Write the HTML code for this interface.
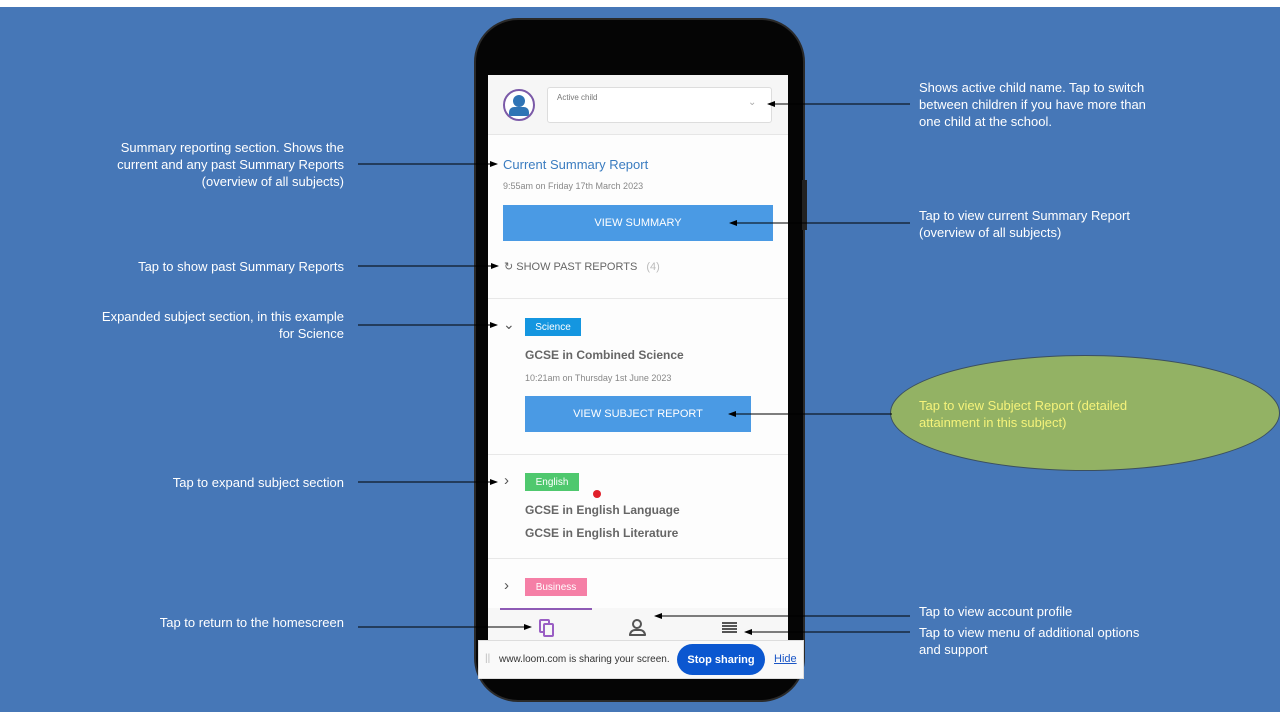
<!DOCTYPE html>
<html><head><meta charset="utf-8"><style>
*{margin:0;padding:0;box-sizing:border-box}
body{width:1280px;height:720px;position:relative;overflow:hidden;background:#fff;font-family:"Liberation Sans",sans-serif}
#bg{position:absolute;left:0;top:7px;width:1280px;height:705px;background:#4677b7}
.a{position:absolute;color:#fff;font-size:13px;line-height:17px}
.r{text-align:right}
.p{position:absolute}
.t{position:absolute;white-space:nowrap}
.b{position:absolute;color:#fff;font-size:10px;display:flex;align-items:center;justify-content:center}
</style></head><body>
<div id="bg"></div>
<div class="p" style="left:474px;top:18px;width:331px;height:684px;background:#050505;border-radius:44px;border:2px solid #2a2a2a"></div>
<div class="p" style="left:802px;top:180px;width:5px;height:50px;background:#222"></div>
<div class="p" style="left:488px;top:75px;width:300px;height:565px;background:#fdfdfd"></div>
<div class="p" style="left:488px;top:75px;width:300px;height:60px;background:#f6f6f6;border-bottom:1px solid #e6e6e6"></div>
<div class="p" style="left:503px;top:89px;width:32px;height:32px;border-radius:50%;border:2px solid #7b5aa8;background:#fff"></div>
<div class="p" style="left:513px;top:95px;width:12px;height:12px;border-radius:50%;background:#2f74b5"></div>
<div class="p" style="left:509px;top:107px;width:20px;height:9px;border-radius:5px 5px 2px 2px;background:#2f74b5"></div>
<div class="p" style="left:547px;top:87px;width:225px;height:36px;background:#fff;border:1px solid #ddd;border-radius:3px"></div>
<div class="t" style="left:557px;top:93px;font-size:8px;color:#777">Active child</div>
<div class="t" style="left:748px;top:97px;font-size:10px;color:#aaa">&#8964;</div>
<div class="t" style="left:503px;top:157px;font-size:13px;color:#3a7cc0">Current Summary Report</div>
<div class="t" style="left:503px;top:181px;font-size:9px;color:#888">9:55am on Friday 17th March 2023</div>
<div class="b" style="left:503px;top:205px;width:270px;height:36px;background:#4a9ae4;font-size:11px">VIEW SUMMARY</div>
<div class="t" style="left:504px;top:260px;font-size:11px;color:#666">&#8635; SHOW PAST REPORTS <span style="color:#bbb;margin-left:6px">(4)</span></div>
<div class="p" style="left:488px;top:298px;width:300px;height:1px;background:#e8e8e8"></div>
<div class="t" style="left:503px;top:316px;font-size:14px;color:#555">&#8964;</div>
<div class="b" style="left:525px;top:318px;width:56px;height:18px;background:#1496e0">Science</div>
<div class="t" style="left:525px;top:348px;font-size:12px;font-weight:bold;color:#666">GCSE in Combined Science</div>
<div class="t" style="left:525px;top:373px;font-size:9px;color:#888">10:21am on Thursday 1st June 2023</div>
<div class="b" style="left:525px;top:396px;width:226px;height:36px;background:#4a9ae4;font-size:11px">VIEW SUBJECT REPORT</div>
<div class="p" style="left:488px;top:454px;width:300px;height:1px;background:#e8e8e8"></div>
<div class="t" style="left:504px;top:472px;font-size:15px;color:#555">&#8250;</div>
<div class="b" style="left:525px;top:473px;width:54px;height:18px;background:#4fc86e">English</div>
<div class="p" style="left:593px;top:490px;width:8px;height:8px;border-radius:50%;background:#e0202a"></div>
<div class="t" style="left:525px;top:503px;font-size:12px;font-weight:bold;color:#666">GCSE in English Language</div>
<div class="t" style="left:525px;top:526px;font-size:12px;font-weight:bold;color:#666">GCSE in English Literature</div>
<div class="p" style="left:488px;top:558px;width:300px;height:1px;background:#e8e8e8"></div>
<div class="t" style="left:504px;top:577px;font-size:15px;color:#555">&#8250;</div>
<div class="b" style="left:525px;top:578px;width:62px;height:18px;background:#f57fa6">Business</div>
<div class="p" style="left:488px;top:608px;width:300px;height:32px;background:#f7f7f7"></div>
<div class="p" style="left:500px;top:608px;width:92px;height:2px;background:#8e5bb5"></div>
<div class="p" style="left:539px;top:619px;width:11px;height:14px;border:2px solid #9a5ec4;border-radius:2px"></div>
<div class="p" style="left:543px;top:623px;width:11px;height:14px;border:2px solid #9a5ec4;border-radius:2px;background:#f7f7f7"></div>
<div class="p" style="left:632px;top:619px;width:10px;height:10px;border:2px solid #555;border-radius:50%"></div>
<div class="p" style="left:629px;top:629px;width:17px;height:7px;border:2px solid #555;border-radius:7px 7px 1px 1px"></div>
<div class="p" style="left:722px;top:622px;width:15px;height:2px;background:#555;box-shadow:0 3px 0 #555,0 6px 0 #555,0 9px 0 #555"></div>
<div class="p" style="left:478px;top:640px;width:326px;height:39px;background:#f9f9f9;border:1px solid #ddd"></div>
<div class="t" style="left:485px;top:653px;font-size:10px;color:#bbb">||</div>
<div class="t" style="left:499px;top:654px;font-size:10px;color:#333">www.loom.com is sharing your screen.</div>
<div class="b" style="left:677px;top:644px;width:88px;height:31px;border-radius:16px;background:#0b57d0;font-size:11px;font-weight:bold">Stop sharing</div>
<div class="t" style="left:774px;top:653px;font-size:11px;color:#1a56c6;text-decoration:underline">Hide</div>
<div class="p" style="left:890px;top:355px;width:390px;height:116px;border-radius:50%;background:#93b264;border:1px solid #3b4f5f"></div>
<div class="a" style="left:919px;top:397px;color:#f5f37a">Tap to view Subject Report (detailed<br>attainment in this subject)</div>
<div class="a r" style="left:40px;width:304px;top:139px">Summary reporting section. Shows the<br>current and any past Summary Reports<br>(overview of all subjects)</div>
<div class="a r" style="left:40px;width:304px;top:258px">Tap to show past Summary Reports</div>
<div class="a r" style="left:40px;width:304px;top:308px">Expanded subject section, in this example<br>for Science</div>
<div class="a r" style="left:40px;width:304px;top:474px">Tap to expand subject section</div>
<div class="a r" style="left:40px;width:304px;top:614px">Tap to return to the homescreen</div>
<div class="a" style="left:919px;top:79px">Shows active child name. Tap to switch<br>between children if you have more than<br>one child at the school.</div>
<div class="a" style="left:919px;top:207px">Tap to view current Summary Report<br>(overview of all subjects)</div>
<div class="a" style="left:919px;top:603px">Tap to view account profile</div>
<div class="a" style="left:919px;top:624px">Tap to view menu of additional options<br>and support</div>
<svg class="p" style="left:0;top:0" width="1280" height="720">
<defs><marker id="m" markerWidth="8" markerHeight="8" refX="7" refY="4" orient="auto"><path d="M0,1 L8,4 L0,7z" fill="#000"/></marker></defs>
<g stroke="#000" stroke-width="1" marker-end="url(#m)">
<line x1="358" y1="164" x2="497" y2="164"/>
<line x1="358" y1="266" x2="498" y2="266"/>
<line x1="358" y1="325" x2="497" y2="325"/>
<line x1="358" y1="482" x2="497" y2="482"/>
<line x1="358" y1="627" x2="531" y2="627"/>
<line x1="910" y1="104" x2="768" y2="104"/>
<line x1="910" y1="223" x2="730" y2="223"/>
<line x1="892" y1="414" x2="729" y2="414"/>
<line x1="910" y1="616" x2="655" y2="616"/>
<line x1="910" y1="632" x2="745" y2="632"/>
</g></svg>
</body></html>
